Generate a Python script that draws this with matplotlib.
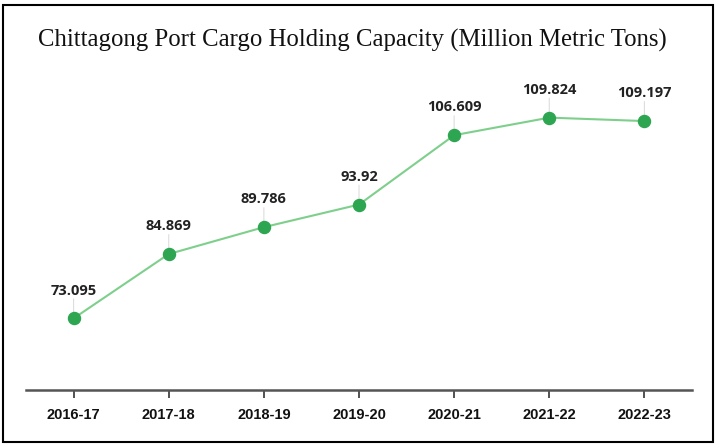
import matplotlib
matplotlib.use("Agg")
import matplotlib.pyplot as plt
from matplotlib.patches import Rectangle

years = ["2016-17", "2017-18", "2018-19", "2019-20", "2020-21", "2021-22", "2022-23"]
capacity = [73.095, 84.869, 89.786, 93.92, 106.609, 109.824, 109.197]
labels = ["73.095", "84.869", "89.786", "93.92", "106.609", "109.824", "109.197"]

fig = plt.figure(figsize=(7.17, 4.46), dpi=100)
ax = fig.add_axes([26/717, 1 - 390/446, (692-26)/717, (390-62)/446])

x = list(range(len(years)))
ax.plot(x, capacity, color="#7fcf8c", lw=1.5, zorder=2)
ax.scatter(x, capacity, s=75, color="#2ea651", zorder=3)

for xi, v, lab in zip(x, capacity, labels):
    ax.annotate("", xy=(xi, v), xytext=(0, 14), textcoords="offset points",
                xycoords="data", zorder=1,
                arrowprops=dict(arrowstyle="-", color="#dddddd", lw=0.8, shrinkA=0, shrinkB=0))
    ax.annotate(lab, xy=(xi, v), xytext=(0, 15), textcoords="offset points",
                ha="center", va="bottom", fontsize=10.5, fontweight="bold",
                color="#222222", family="Open Sans")

ax.set_xlim(-0.5, 6.5)
ax.set_ylim(60, 120)
ax.set_xticks(x)
ax.set_xticklabels(years, fontsize=10.5, fontweight="bold", family="Liberation Sans", color="#111111")
ax.set_yticks([])
for s in ["top", "right", "left"]:
    ax.spines[s].set_visible(False)
ax.spines["bottom"].set_color("#555555")
ax.spines["bottom"].set_linewidth(1.8)
ax.tick_params(axis="x", length=6, width=1.2, color="#333333", pad=7)

fig.text(352/717, 1 - 40/446, "Chittagong Port Cargo Holding Capacity (Million Metric Tons)",
         ha="center", va="center", fontsize=17.8, family="Liberation Serif", color="#111111")

fig.patches.append(Rectangle((3/717, 4/446), (713-3)/717, (441-4)/446, transform=fig.transFigure,
                             fill=False, edgecolor="black", lw=1.5, zorder=10))

fig.savefig("out.png", dpi=100)
